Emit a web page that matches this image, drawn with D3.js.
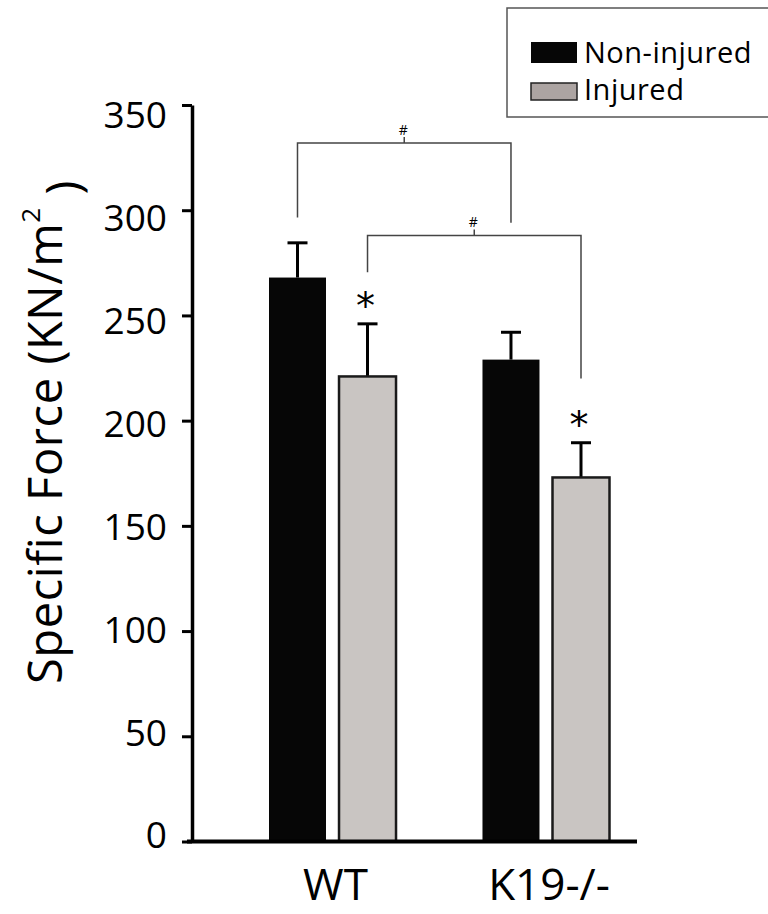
<!DOCTYPE html>
<html>
<head>
<meta charset="utf-8">
<script src="https://cdn.jsdelivr.net/npm/d3@7"></script>
<style>
  body { margin: 0; background: #fff; }
  svg text { font-family: "Open Sans", "Noto Sans", sans-serif; fill: #000; }
</style>
</head>
<body>
<div id="chart"></div>
<script>
// data
const groups = ["WT", "K19-/-"];
const series = ["Non-injured", "Injured"];
const means = [[268, 221], [229, 173]];
const errors = [[16.5, 25], [13, 16.5]];
const yTicks = [0, 50, 100, 150, 200, 250, 300, 350];
// significance brackets: [group, series] ends, bracket height, leg bottoms
const brackets = [
    { from: [0, 0], to: [1, 0], top: 332, legs: [296.5, 294], label: "#" },
    { from: [0, 1], to: [1, 1], top: 288, legs: [270.5, 220], label: "#" }
];
const stars = [[0, 1], [1, 1]];

const svgWidth = 768, svgHeight = 914;
const colors = { "Non-injured": "#060606", "Injured": "#c9c5c2" };
const legendColors = { "Non-injured": "#060606", "Injured": "#aca4a2" };

let svg = d3.select("#chart").append("svg")
    .attr("width", svgWidth)
    .attr("height", svgHeight);

// scales
let yScale = d3.scaleLinear()
    .domain([0, 350])
    .range([841.5, 105]);
// tick labels in the original sit on a slightly tighter spacing than the ticks
let labelScale = d3.scaleLinear()
    .domain([0, 350])
    .range([835, 115]);
let xGroup = d3.scaleBand()
    .domain(groups)
    .range([269, 609.5])
    .paddingInner(0.405)
    .paddingOuter(0);
let xSeries = d3.scaleBand()
    .domain(series)
    .range([0, xGroup.bandwidth()])
    .paddingInner(0.186);

function barCenter(gi, si) {
    return xGroup(groups[gi]) + xSeries(series[si]) + xSeries.bandwidth() / 2;
}

// y axis
let yAxis = svg.append("g")
    .attr("transform", "translate(192,0)")
    .call(d3.axisLeft(yScale).tickValues(yTicks).tickSize(10).tickSizeOuter(0).tickPadding(15));
yAxis.select(".domain").attr("stroke-width", 3.5);
yAxis.selectAll(".tick line").attr("stroke-width", 3);
yAxis.selectAll(".tick text")
    .style("font-size", "37px")
    .attr("dy", "0.35em")
    .attr("y", (d) => labelScale(d) - yScale(d))
    .attr("fill", "#000");

// bars
let barData = [];
groups.forEach((g, gi) => series.forEach((s, si) => {
    barData.push({ g: g, s: s, gi: gi, si: si, v: means[gi][si], e: errors[gi][si] });
}));

// error bars (drawn behind bars)
let err = svg.append("g").attr("stroke", "#000").attr("stroke-width", 3);
err.selectAll("line.stem")
    .data(barData)
    .join("line")
    .attr("class", "stem")
    .attr("x1", (d) => barCenter(d.gi, d.si))
    .attr("x2", (d) => barCenter(d.gi, d.si))
    .attr("y1", (d) => yScale(d.v))
    .attr("y2", (d) => yScale(d.v + d.e));
err.selectAll("line.cap")
    .data(barData)
    .join("line")
    .attr("class", "cap")
    .attr("x1", (d) => barCenter(d.gi, d.si) - 10)
    .attr("x2", (d) => barCenter(d.gi, d.si) + 10)
    .attr("y1", (d) => yScale(d.v + d.e))
    .attr("y2", (d) => yScale(d.v + d.e));

svg.append("g").selectAll("rect")
    .data(barData)
    .join("rect")
    .attr("x", (d) => xGroup(d.g) + xSeries(d.s))
    .attr("y", (d) => yScale(d.v))
    .attr("width", xSeries.bandwidth())
    .attr("height", (d) => yScale(0) - yScale(d.v))
    .attr("fill", (d) => colors[d.s])
    .attr("stroke", (d) => d.s == "Injured" ? "#1a1a1a" : "none")
    .attr("stroke-width", 2.5);

// baseline
svg.append("line")
    .attr("x1", 187).attr("x2", 637)
    .attr("y1", yScale(0)).attr("y2", yScale(0))
    .attr("stroke", "#000")
    .attr("stroke-width", 4);

// stars
svg.append("g").selectAll("text")
    .data(stars)
    .join("text")
    .attr("x", (d) => barCenter(d[0], d[1]) - 2)
    .attr("y", (d) => yScale(means[d[0]][d[1]] + errors[d[0]][d[1]]) - 5)
    .attr("text-anchor", "middle")
    .style("font-family", "'DejaVu Sans', sans-serif")
    .style("font-size", "38px")
    .text("*");

// brackets
let br = svg.append("g");
brackets.forEach((b) => {
    let x1 = barCenter(b.from[0], b.from[1]),
        x2 = barCenter(b.to[0], b.to[1]),
        yt = yScale(b.top),
        xm = (x1 + x2) / 2;
    br.append("path")
        .attr("d", `M${x1},${yScale(b.legs[0])}V${yt}H${x2}V${yScale(b.legs[1])}M${xm},${yt}V${yt - 6}`)
        .attr("fill", "none")
        .attr("stroke", "#444")
        .attr("stroke-width", 1.5);
    br.append("text")
        .attr("x", xm - 1)
        .attr("y", yt - 8)
        .attr("text-anchor", "middle")
        .style("font-size", "14px")
        .text(b.label);
});

// x labels
svg.append("g").selectAll("text")
    .data(groups)
    .join("text")
    .attr("x", (d) => xGroup(d) + xGroup.bandwidth() / 2 + 3)
    .attr("y", 900)
    .attr("text-anchor", "middle")
    .style("font-size", "44px")
    .text((d) => d);

// y label
let yLabel = svg.append("text")
    .attr("transform", "translate(62,432) rotate(-90)")
    .attr("text-anchor", "middle")
    .style("font-size", "47px")
    .style("letter-spacing", "0.6px");
yLabel.append("tspan").text("Specific  Force  (KN/m");
yLabel.append("tspan").attr("dy", "-0.85em").style("font-size", "26px").text("2");
yLabel.append("tspan").attr("dy", "0.85em").text(" )");

// legend
let legend = svg.append("g");
legend.append("rect")
    .attr("x", 507).attr("y", 8)
    .attr("width", 300).attr("height", 109)
    .attr("fill", "none")
    .attr("stroke", "#555")
    .attr("stroke-width", 1.5);
series.forEach((s, i) => {
    legend.append("rect")
        .attr("x", 531)
        .attr("y", 42 + i * 41)
        .attr("width", 46)
        .attr("height", i == 0 ? 21 : 17)
        .attr("fill", legendColors[s])
        .attr("stroke", "#222")
        .attr("stroke-width", i == 0 ? 0 : 1.5);
    legend.append("text")
        .attr("x", 584)
        .attr("y", 63 + i * 37)
        .style("font-size", "29px")
        .style("letter-spacing", "0.5px")
        .text(s);
});
</script>
</body>
</html>
